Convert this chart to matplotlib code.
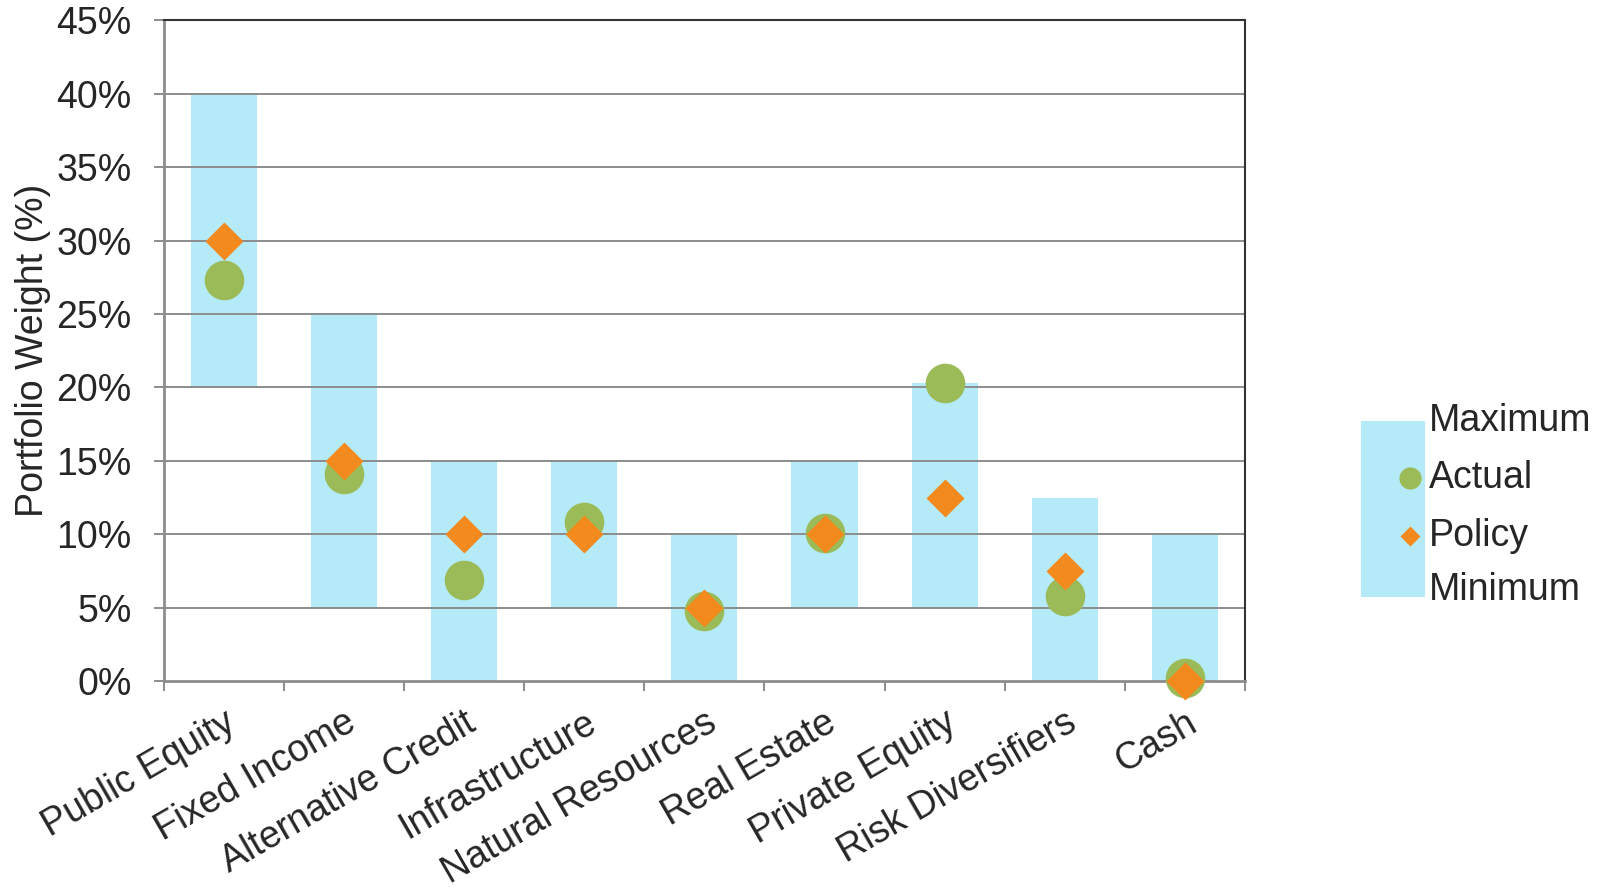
import matplotlib
matplotlib.use('Agg')
import matplotlib.pyplot as plt
import numpy as np
from matplotlib.patches import Rectangle
from matplotlib.lines import Line2D

plt.rcParams['font.family'] = ['Liberation Sans', 'DejaVu Sans']

categories = ['Public Equity', 'Fixed Income', 'Alternative Credit', 'Infrastructure',
              'Natural Resources', 'Real Estate', 'Private Equity', 'Risk Diversifiers', 'Cash']
minimum = [20, 5, 0, 5, 0, 5, 5, 0, 0]
maximum = [40, 25, 15, 15, 10, 15, 20.3, 12.5, 10]
actual = [27.3, 14.1, 6.9, 10.8, 4.8, 10.1, 20.3, 5.8, 0.2]
policy = [30, 15, 10, 10, 5, 10, 12.5, 7.5, 0]
yticks = [0, 5, 10, 15, 20, 25, 30, 35, 40, 45]
legend_labels = ['Maximum', 'Actual', 'Policy', 'Minimum']

blue = '#B5EBF9'
green = '#9BBB59'
orange = '#F28A1E'
grid = '#8C8C8C'
txt = '#262626'
fs = 27

fig = plt.figure(figsize=(16.03, 8.88), dpi=100)
ax = fig.add_axes([0.1021, 0.2331, 0.6746, 0.7439])

x = np.arange(len(categories))
ax.bar(x, np.array(maximum) - np.array(minimum), bottom=minimum, width=0.55,
       color=blue, zorder=1)
for v in yticks[1:-1]:
    ax.axhline(v, color=grid, lw=1.4, zorder=2)
ax.plot(x, actual, 'o', ms=28.5, color=green, mec='none', zorder=5, clip_on=False)
ax.plot(x, policy, 'D', ms=19.5, color=orange, mec='none', zorder=6, clip_on=False)

ax.set_xlim(-0.5, len(categories) - 0.5)
ax.set_ylim(0, 45)
ax.set_yticks(yticks)
ax.set_yticklabels(['%d%%' % v for v in yticks])
ax.set_xticks(x)
ax.set_xticklabels(categories, rotation=30, ha='right', va='top', rotation_mode='anchor')
ax.set_xticks(np.arange(len(categories) + 1) - 0.5, minor=True)
ax.tick_params(axis='x', which='major', length=0, pad=17, labelsize=fs, labelcolor=txt)
ax.tick_params(axis='x', which='minor', length=7, width=1.4, color=grid)
ax.tick_params(axis='y', length=7, width=1.4, color=grid, labelsize=fs, labelcolor=txt, pad=16)
ax.set_ylabel('Portfolio Weight (%)', fontsize=fs, color=txt, labelpad=4)

ax.spines['left'].set_color(grid)
ax.spines['bottom'].set_color(grid)
ax.spines['left'].set_linewidth(2)
ax.spines['bottom'].set_linewidth(2)
ax.spines['top'].set_color('#333333')
ax.spines['right'].set_color('#333333')
ax.spines['top'].set_linewidth(1.5)
ax.spines['right'].set_linewidth(1.5)

# legend built by hand: one tall range patch with the two markers on its edge
fig.add_artist(Rectangle((0.849, 0.3277), 0.0399, 0.198, transform=fig.transFigure,
                         color=blue, lw=0))
fig.add_artist(Line2D([0.8796], [0.4617], marker='o', ms=16, color=green, mec='none',
                      transform=fig.transFigure))
fig.add_artist(Line2D([0.8796], [0.396], marker='D', ms=10.5, color=orange, mec='none',
                      transform=fig.transFigure))
for lab, yy in zip(legend_labels, [0.526, 0.4617, 0.396, 0.3356]):
    fig.text(0.8915, yy, lab, fontsize=fs, color=txt, va='center', ha='left')

fig.savefig('out.png', dpi=100)
